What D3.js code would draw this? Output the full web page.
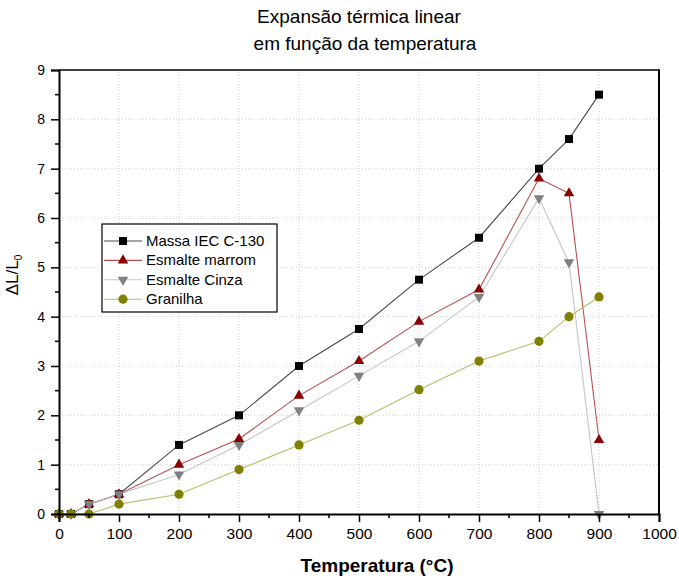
<!DOCTYPE html>
<html>
<head>
<meta charset="utf-8">
<script src="https://cdn.jsdelivr.net/npm/d3@7"></script>
<style>
  body { margin: 0; background: #fff; }
  text { font-family: "Liberation Sans", Arial, sans-serif; fill: #000; }
</style>
</head>
<body>
<script>
// temperatures (°C)
const temps = [0, 20, 50, 100, 200, 300, 400, 500, 600, 700, 800, 850, 900];

// dL/L0
const massa    = [0, 0, 0.2, 0.4, 1.4, 2.0, 3.0, 3.75, 4.75, 5.6, 7.0, 7.6, 8.5];
const marrom   = [0, 0, 0.2, 0.4, 1.0, 1.52, 2.4, 3.1, 3.9, 4.55, 6.8, 6.5, 1.5];
const cinza    = [0, 0, 0.2, 0.4, 0.8, 1.4, 2.1, 2.8, 3.5, 4.4, 6.4, 5.1, 0];
const granilha = [0, 0, 0, 0.2, 0.4, 0.9, 1.4, 1.9, 2.52, 3.1, 3.5, 4.0, 4.4];

const seriesNames = ["Massa IEC C-130", "Esmalte marrom", "Esmalte Cinza", "Granilha"];
const xTickValues = [0, 100, 200, 300, 400, 500, 600, 700, 800, 900, 1000];
const yTickValues = [0, 1, 2, 3, 4, 5, 6, 7, 8, 9];

const width = 679;
const height = 579;
const margin = {top: 70, right: 20, bottom: 65, left: 59};

const styles = [
  {marker: "#000000", line: "#4a4a4a", symbol: d3.symbolSquare, size: 64, rot: 0},
  {marker: "#8b0000", line: "#b85050", symbol: d3.symbolTriangle, size: 48, rot: 0},
  {marker: "#808080", line: "#c4c4c4", symbol: d3.symbolTriangle, size: 48, rot: 180},
  {marker: "#808000", line: "#bcbc6a", symbol: d3.symbolCircle, size: 66, rot: 0}
];

const series = [massa, marrom, cinza, granilha].map((vals, i) => ({
  name: seriesNames[i],
  style: styles[i],
  points: temps.map((t, j) => ({t: t, v: vals[j]}))
}));

const x = d3.scaleLinear()
            .domain([0, 1000])
            .range([margin.left, width - margin.right]);

const y = d3.scaleLinear()
            .domain([0, 9])
            .range([height - margin.bottom, margin.top]);

const svg = d3.select("body")
              .append("svg")
              .attr("width", width)
              .attr("height", height);

// grid
svg.append("g")
   .selectAll("line")
   .data(xTickValues.filter(d => d > 0 && d < 1000))
   .join("line")
   .attr("x1", d => x(d)).attr("x2", d => x(d))
   .attr("y1", y(0)).attr("y2", y(9))
   .attr("stroke", "#d0d0d0")
   .attr("stroke-dasharray", "1,2");

svg.append("g")
   .selectAll("line")
   .data(yTickValues.filter(d => d > 0 && d < 9))
   .join("line")
   .attr("x1", x(0)).attr("x2", x(1000))
   .attr("y1", d => y(d)).attr("y2", d => y(d))
   .attr("stroke", "#d0d0d0")
   .attr("stroke-dasharray", "1,2");

// lines and markers
const line = d3.line().x(d => x(d.t)).y(d => y(d.v));

series.forEach(s => {
  svg.append("path")
     .attr("d", line(s.points))
     .attr("fill", "none")
     .attr("stroke", s.style.line)
     .attr("stroke-width", 1.1);
});

series.forEach(s => {
  svg.append("g")
     .selectAll("path")
     .data(s.points)
     .join("path")
     .attr("d", d3.symbol().type(s.style.symbol).size(s.style.size))
     .attr("transform", d => `translate(${x(d.t)},${y(d.v)}) rotate(${s.style.rot})`)
     .attr("fill", s.style.marker);
});

// frame
svg.append("line")
   .attr("x1", x(0)).attr("x2", x(1000))
   .attr("y1", y(9)).attr("y2", y(9))
   .attr("stroke", "#000").attr("stroke-width", 1.5);
svg.append("line")
   .attr("x1", x(1000)).attr("x2", x(1000))
   .attr("y1", y(9) - 0.75).attr("y2", y(0))
   .attr("stroke", "#000").attr("stroke-width", 2);

// axes
const xAxis = svg.append("g")
   .attr("transform", `translate(0,${y(0)})`)
   .call(d3.axisBottom(x).tickValues(xTickValues).tickFormat(d3.format("d"))
           .tickSize(8).tickPadding(6));
xAxis.append("g")
   .selectAll("line")
   .data(d3.range(50, 1000, 100))
   .join("line")
   .attr("x1", d => x(d)).attr("x2", d => x(d))
   .attr("y1", 0).attr("y2", 4)
   .attr("stroke", "#000").attr("stroke-width", 1.5);

const yAxis = svg.append("g")
   .attr("transform", `translate(${x(0)},0)`)
   .call(d3.axisLeft(y).tickValues(yTickValues).tickSize(8).tickPadding(6));
yAxis.append("g")
   .selectAll("line")
   .data(d3.range(0.5, 9, 1))
   .join("line")
   .attr("x1", 0).attr("x2", -4)
   .attr("y1", d => y(d)).attr("y2", d => y(d))
   .attr("stroke", "#000").attr("stroke-width", 1.5);

[xAxis, yAxis].forEach(a => {
  a.select(".domain").attr("stroke-width", 2).attr("stroke", "#000");
  a.selectAll(".tick line").attr("stroke-width", 1.5);
  a.selectAll("text").attr("font-family", "Liberation Sans, Arial, sans-serif");
});
xAxis.selectAll("text").attr("font-size", 15.5);
yAxis.selectAll("text").attr("font-size", 14);

// titles
const cx = (x(0) + x(1000)) / 2;
svg.append("text")
   .attr("x", cx).attr("y", 23)
   .attr("text-anchor", "middle")
   .attr("font-size", 19)
   .text("Expansão térmica linear");
svg.append("text")
   .attr("x", cx + 6).attr("y", 50)
   .attr("text-anchor", "middle")
   .attr("font-size", 19)
   .text("em função da temperatura");

svg.append("text")
   .attr("x", 377).attr("y", 572)
   .attr("text-anchor", "middle")
   .attr("font-size", 19)
   .attr("font-weight", "bold")
   .text("Temperatura (°C)");

const yLab = svg.append("text")
   .attr("transform", "translate(18,275) rotate(-90)")
   .attr("text-anchor", "middle")
   .attr("font-size", 17);
yLab.append("tspan").text("ΔL/L");
yLab.append("tspan").attr("font-size", 10).attr("dy", 4).text("0");

// legend
const legend = svg.append("g");
legend.append("rect")
      .attr("x", 102).attr("y", 224)
      .attr("width", 175).attr("height", 88)
      .attr("fill", "#fff")
      .attr("stroke", "#000")
      .attr("stroke-width", 1.2);

series.forEach((s, i) => {
  const ly = 241 + i * 19.4;
  legend.append("line")
        .attr("x1", 104).attr("x2", 142)
        .attr("y1", ly).attr("y2", ly)
        .attr("stroke", s.style.line)
        .attr("stroke-width", 1.1);
  legend.append("path")
        .attr("d", d3.symbol().type(s.style.symbol).size(s.style.size)())
        .attr("transform", `translate(123,${ly}) rotate(${s.style.rot})`)
        .attr("fill", s.style.marker);
  legend.append("text")
        .attr("x", 146).attr("y", ly + 5)
        .attr("font-size", 15)
        .text(s.name);
});
</script>
</body>
</html>
